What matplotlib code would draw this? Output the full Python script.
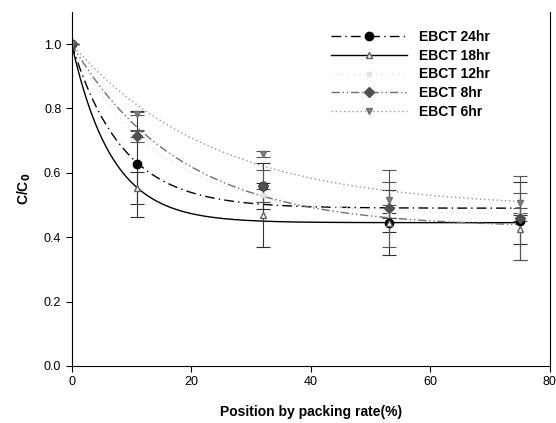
import numpy as np
import matplotlib.pyplot as plt
from matplotlib.lines import Line2D

plt.rcParams['font.family'] = ['Liberation Sans', 'DejaVu Sans']

# measured points (position by packing rate, %)
position = [0, 11, 32, 53, 75]

labels = ['EBCT 24hr', 'EBCT 18hr', 'EBCT 12hr', 'EBCT 8hr', 'EBCT 6hr']

c_24 = [1.0, 0.627, 0.559, 0.445, 0.450]
c_18 = [1.0, 0.553, 0.469, 0.445, 0.425]
c_12 = [1.0, 0.720, 0.530, 0.480, 0.470]
c_8 = [1.0, 0.714, 0.560, 0.490, 0.460]
c_6 = [1.0, 0.783, 0.658, 0.515, 0.506]

err_24 = [0, 0.165, 0.070, 0.100, 0.120]
err_18 = [0, 0.050, 0.100, 0.030, 0.045]
err_12 = [0, 0.010, 0.020, 0.020, 0.020]
err_8 = [0, 0.018, 0.050, 0.120, 0.130]
err_6 = [0, 0.005, 0.010, 0.055, 0.030]

# fitted curves  C/C0 = a + (1 - a) * exp(-k x)
fit_a = [0.49, 0.445, 0.47, 0.43, 0.49]
fit_k = [0.1175, 0.149, 0.07, 0.0553, 0.0424]

series = [c_24, c_18, c_12, c_8, c_6]
errors = [err_24, err_18, err_12, err_8, err_6]
colors = ['black', 'black', '#e2e2e2', '#707070', '#9a9a9a']
line_styles = [(0, (7, 3, 1, 3)), '-', (0, (1, 3)), (0, (6, 2, 1, 2, 1, 2)), (0, (1, 2))]
markers = ['o', '^', 's', 'D', 'v']
marker_faces = ['black', 'white', '#e2e2e2', '#505050', '#808080']
marker_edges = ['black', '#606060', '#e2e2e2', '#505050', '#707070']
marker_sizes = [6, 5, 3, 5, 5]

fig = plt.figure(figsize=(5.56, 4.23), dpi=100)
ax = fig.add_axes([0.129, 0.135, 0.860, 0.837])

xs = np.linspace(0, 75, 300)
handles = []
for i in range(len(series)):
    curve = fit_a[i] + (1 - fit_a[i]) * np.exp(-fit_k[i] * xs)
    ax.plot(xs, curve, color=colors[i], linestyle=line_styles[i], linewidth=1.0)
    ax.errorbar(position, series[i], yerr=errors[i], fmt=markers[i], color=marker_edges[i],
                mfc=marker_faces[i], mec=marker_edges[i], ms=marker_sizes[i],
                ecolor='#303030' if i < 2 else '#555555', elinewidth=0.8, capsize=5, capthick=0.8)
    handles.append(Line2D([0], [0], color=colors[i], linestyle=line_styles[i], linewidth=1.0,
                          marker=markers[i], mfc=marker_faces[i], mec=marker_edges[i],
                          ms=marker_sizes[i]))

ax.set_xlim(0, 80)
ax.set_ylim(0, 1.1)
ax.set_xticks([0, 20, 40, 60, 80])
ax.set_yticks([0.0, 0.2, 0.4, 0.6, 0.8, 1.0])
ax.set_yticklabels(['0.0', '0.2', '0.4', '0.6', '0.8', '1.0'])
ax.tick_params(direction='out', labelsize=9, length=4)
ax.spines['top'].set_visible(False)

ax.set_xlabel('Position by packing rate(%)', fontsize=10, fontweight='bold', labelpad=12)
ax.set_ylabel('C/C$_\\mathbf{0}$', fontsize=10, fontweight='bold', labelpad=8)

leg = ax.legend(handles, labels, loc='upper right', bbox_to_anchor=(0.9, 0.985), frameon=False,
                handlelength=5.5, fontsize=10, labelspacing=0.35, handletextpad=0.8)
for t in leg.get_texts():
    t.set_fontweight('bold')

fig.savefig('out.png', dpi=100)
